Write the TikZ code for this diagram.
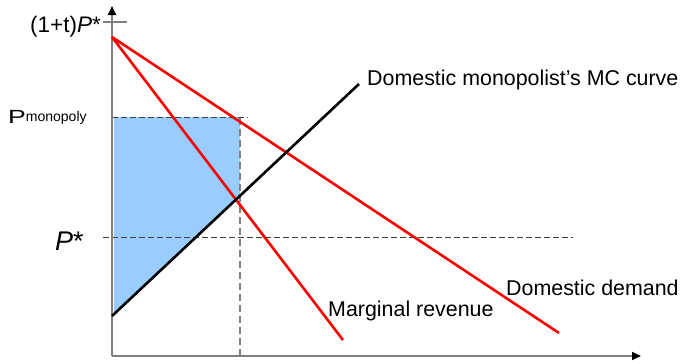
\documentclass[tikz,border=0pt]{standalone}
\usepackage{fontspec}
\setmainfont{Liberation Sans}
\usetikzlibrary{arrows.meta}
\definecolor{axisgray}{HTML}{808080}
\definecolor{dashgray}{HTML}{404040}
\definecolor{areablue}{HTML}{99CCFF}
\definecolor{curvered}{HTML}{FF0000}
\begin{document}
\begin{tikzpicture}[x=1pt,y=-1pt,
  axisline/.style={draw=axisgray,line width=1.8pt,-{Triangle[length=9pt,width=8pt,color=black]}},
  ticks/.style={draw=axisgray,line width=1.2pt},
  guide/.style={draw=dashgray,line width=0.9pt,dash pattern=on 6pt off 3pt},
  vguide/.style={draw=axisgray,line width=1.6pt,dash pattern=on 7pt off 4pt},
  redcurve/.style={draw=curvered,line width=2.6pt},
  mccurve/.style={draw=black,line width=2.6pt},
  lbl/.style={inner sep=0pt,font=\fontsize{21.4}{25}\selectfont}]
\useasboundingbox (0,0) rectangle (680,364);
% coordinates
\coordinate (O) at (112,356);
\coordinate (Ytop) at (112,6);
\coordinate (Xend) at (641,356);
\coordinate (A) at (112,37);
\coordinate (D) at (559,333);
\coordinate (MR) at (343,340);
\coordinate (MC0) at (112,316);
\coordinate (MC1) at (359,84);
\coordinate (Q) at (240,356);
\coordinate (Qtop) at (240,117);
\coordinate (PmL) at (112,117);
\coordinate (PmR) at (248,117);
\coordinate (PsL) at (103,237);
\coordinate (PsR) at (573,237);
\coordinate (TkL) at (103,22);
\coordinate (TkR) at (127,22);
% shaded area
\fill[areablue] (114,117) -- (240,117) -- (240,195.8) -- (114,314.1) -- cycle;
% guides
\draw[guide] (PmL) -- (PmR);
\draw[guide] (PsL) -- (PsR);
\draw[vguide] (Q) -- (Qtop);
% axes
\draw[axisline] (O) -- (Ytop);
\draw[axisline] (O) -- (Xend);
\draw[ticks] (TkL) -- (TkR);
% curves
\draw[redcurve] (A) -- (D);
\draw[redcurve] (A) -- (MR);
\draw[mccurve] (MC0) -- (MC1);
% labels
\node[lbl,anchor=base east,font=\fontsize{22.5}{26}\selectfont] (ltop) at (101,32) {(1+t)\textit{P}*};
\node[lbl,anchor=base west] (lpm) at (8,123) {{\fontsize{19}{22}\selectfont\scalebox{1.4}[1]{P}}\raisebox{2pt}{\fontsize{14}{16}\selectfont monopoly}};
\node[lbl,anchor=base west,font=\fontsize{27}{30}\selectfont] (lps) at (55,250) {\textit{P}*};
\node[lbl,anchor=base west] (lmc) at (367,85) {Domestic monopolist’s MC curve};
\node[lbl,anchor=base west] (ldd) at (506,295) {Domestic demand};
\node[lbl,anchor=base west] (lmr) at (328,316) {Marginal revenue};
\end{tikzpicture}
\end{document}
